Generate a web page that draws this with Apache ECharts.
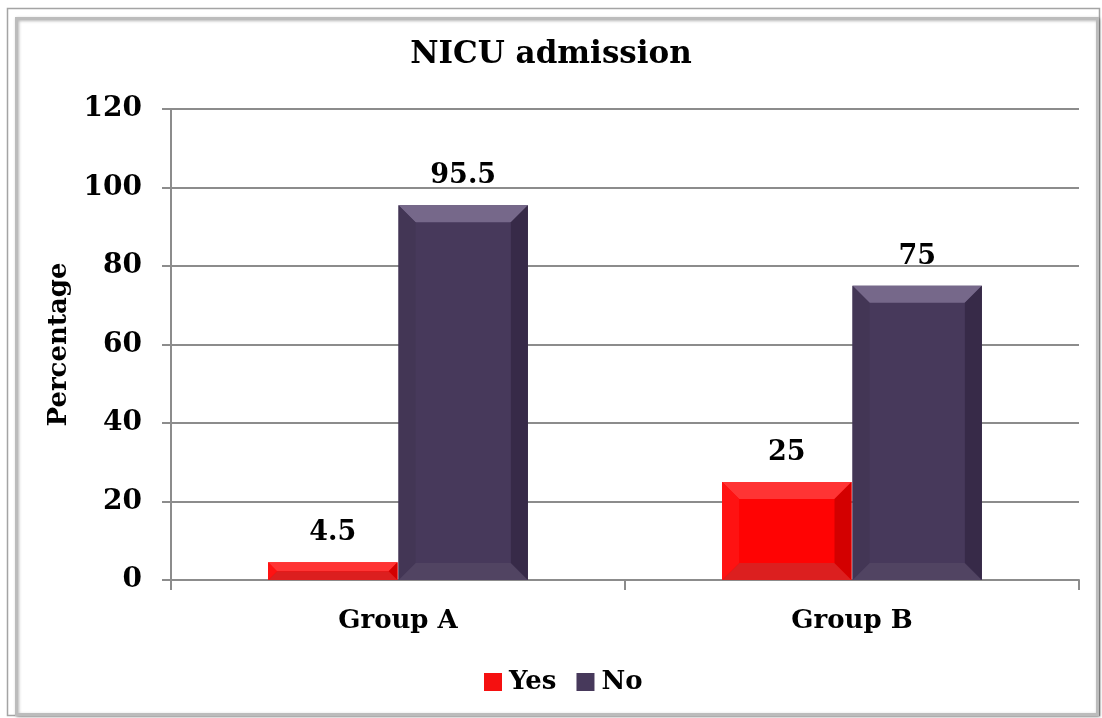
<!DOCTYPE html>
<html>
<head>
<meta charset="utf-8">
<style>
  html, body { margin: 0; padding: 0; background: #ffffff; }
  #chart { width: 1102px; height: 718px; }
</style>
<script src="https://cdn.jsdelivr.net/npm/echarts@6/dist/echarts.min.js"></script>
</head>
<body>
<div id="chart"></div>
<script>
// NICU admission by group (percentage)
const categories = ['Group A', 'Group B'];
const yesValues = [4.5, 25];
const noValues = [95.5, 75];
const yTicks = { min: 0, max: 120, interval: 20 };

const FONT = '"DejaVu Serif", "Liberation Serif", serif';

// Face and bevel shades for each series
const palettes = [
  { face: '#ff0303', top: '#ff3434', left: '#ff1212', right: '#d30000', bottom: '#dc1f1f', legend: '#f51010' },
  { face: '#47395b', top: '#76688a', left: '#433655', right: '#372a48', bottom: '#514462', legend: '#47395b' }
];

function bevelBar(seriesIdx) {
  return function (params, api) {
    const pal = palettes[seriesIdx];
    const cat = api.value(0);
    const val = api.value(1);
    const topPt = api.coord([cat, val]);
    const basePt = api.coord([cat, 0]);
    const bandW = api.size([1, 0])[0];
    const w = bandW * 0.285;
    const cx = topPt[0] + (seriesIdx === 0 ? -1 : 1) * (w / 2 + 0.5);
    const x = cx - w / 2;
    const top = topPt[1];
    const bot = basePt[1];
    const h = bot - top;
    const b = Math.min(17, h / 2, w / 2);
    const poly = (pts, fill) => ({ type: 'polygon', shape: { points: pts }, style: { fill: fill } });
    return {
      type: 'group',
      children: [
        { type: 'rect', shape: { x: x, y: top, width: w, height: h }, style: { fill: pal.face } },
        poly([[x, top], [x + w, top], [x + w - b, top + b], [x + b, top + b]], pal.top),
        poly([[x, bot], [x + w, bot], [x + w - b, bot - b], [x + b, bot - b]], pal.bottom),
        poly([[x, top], [x + b, top + b], [x + b, bot - b], [x, bot]], pal.left),
        poly([[x + w, top], [x + w - b, top + b], [x + w - b, bot - b], [x + w, bot]], pal.right),
        {
          type: 'text',
          style: {
            text: String(val), x: cx, y: top - 29,
            align: 'center', verticalAlign: 'middle',
            font: 'bold 27px ' + FONT, fill: '#000000'
          }
        }
      ]
    };
  };
}

const chart = echarts.init(document.getElementById('chart'), null, { renderer: 'canvas' });

chart.setOption({
  backgroundColor: '#ffffff',
  animation: false,
  graphic: [
    { type: 'rect', z: -10, shape: { x: 7.5, y: 8.5, width: 1092, height: 707 },
      style: { fill: 'none', stroke: '#a4a4a4', lineWidth: 1.5 } },
    { type: 'rect', z: -9, shape: { x: 16.5, y: 18.5, width: 1081, height: 696 },
      style: { fill: '#ffffff', stroke: '#bcbcbc', lineWidth: 3,
               shadowBlur: 3, shadowColor: 'rgba(0,0,0,0.3)', shadowOffsetX: 1, shadowOffsetY: 1 } }
  ],
  title: {
    text: 'NICU admission',
    left: 'center',
    top: 39,
    padding: 0,
    textStyle: { fontFamily: FONT, fontWeight: 'bold', fontSize: 31, color: '#000000' }
  },
  legend: {
    data: ['Yes', 'No'],
    bottom: 18,
    left: 479,
    icon: 'rect',
    itemWidth: 18,
    itemHeight: 18,
    itemGap: 20,
    textStyle: { fontFamily: FONT, fontWeight: 'bold', fontSize: 26, color: '#000000', padding: [0, 0, 0, 2] }
  },
  grid: { left: 171, right: 23, top: 109, bottom: 138, containLabel: false },
  xAxis: {
    type: 'category',
    data: categories,
    axisLine: { show: true, lineStyle: { color: '#8c8c8c', width: 2 } },
    axisTick: { show: true, length: 10, alignWithLabel: false, lineStyle: { color: '#8c8c8c', width: 2 } },
    axisLabel: { margin: 28, fontFamily: FONT, fontWeight: 'bold', fontSize: 26, color: '#000000' },
    splitLine: { show: false }
  },
  yAxis: {
    type: 'value',
    min: yTicks.min,
    max: yTicks.max,
    interval: yTicks.interval,
    name: 'Percentage',
    nameLocation: 'middle',
    nameGap: 96,
    nameRotate: 90,
    nameTextStyle: { fontFamily: FONT, fontWeight: 'bold', fontSize: 26, color: '#000000' },
    axisLine: { show: true, lineStyle: { color: '#8c8c8c', width: 2 } },
    axisTick: { show: true, length: 9, lineStyle: { color: '#8c8c8c', width: 2 } },
    axisLabel: { margin: 29, fontFamily: FONT, fontWeight: 'bold', fontSize: 28, color: '#000000' },
    splitLine: { show: true, lineStyle: { color: '#8c8c8c', width: 2 } }
  },
  series: [
    {
      name: 'Yes', type: 'custom',
      itemStyle: { color: palettes[0].legend },
      encode: { x: 0, y: 1 },
      data: yesValues.map((v, i) => [i, v]),
      renderItem: bevelBar(0)
    },
    {
      name: 'No', type: 'custom',
      itemStyle: { color: palettes[1].legend },
      encode: { x: 0, y: 1 },
      data: noValues.map((v, i) => [i, v]),
      renderItem: bevelBar(1)
    }
  ]
});
</script>
</body>
</html>
